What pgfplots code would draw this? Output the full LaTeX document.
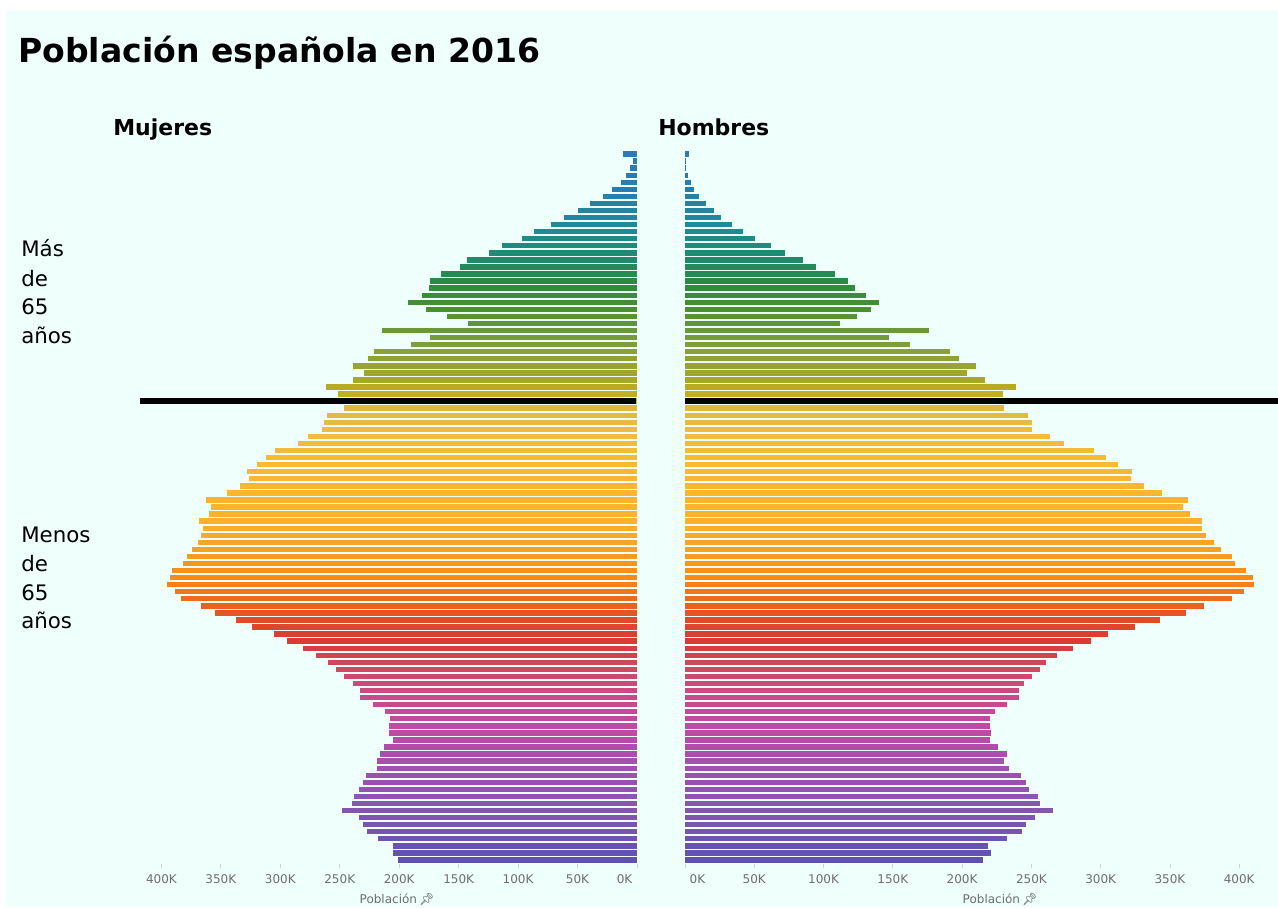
\documentclass[border=0pt]{standalone}
\usepackage{pgfplots}
\pgfplotsset{compat=1.18}
\usepackage{pgfplotstable}
\usepackage{fontspec}
\setmainfont{DejaVu Sans}
\newfontfamily\emojifont{Noto Emoji}

\definecolor{bgc}{RGB}{238,255,252}
\definecolor{tickgray}{RGB}{110,110,110}
\definecolor{k0}{RGB}{96,80,176}
\definecolor{k4}{RGB}{117,85,176}
\definecolor{k8}{RGB}{138,85,176}
\definecolor{k13}{RGB}{160,80,176}
\definecolor{k17}{RGB}{184,74,170}
\definecolor{k21}{RGB}{200,72,154}
\definecolor{k25}{RGB}{204,74,120}
\definecolor{k28}{RGB}{208,72,88}
\definecolor{k31}{RGB}{216,58,56}
\definecolor{k34}{RGB}{224,74,40}
\definecolor{k37}{RGB}{240,106,26}
\definecolor{k40}{RGB}{248,138,26}
\definecolor{k44}{RGB}{248,160,32}
\definecolor{k48}{RGB}{251,176,48}
\definecolor{k55}{RGB}{251,184,46}
\definecolor{k60}{RGB}{240,188,64}
\definecolor{k64}{RGB}{224,184,64}
\definecolor{k66}{RGB}{192,176,32}
\definecolor{k68}{RGB}{168,168,40}
\definecolor{k72}{RGB}{138,160,56}
\definecolor{k75}{RGB}{106,152,56}
\definecolor{k78}{RGB}{74,144,48}
\definecolor{k82}{RGB}{42,138,64}
\definecolor{k85}{RGB}{33,138,106}
\definecolor{k90}{RGB}{31,138,154}
\definecolor{k95}{RGB}{40,125,175}
\definecolor{k100}{RGB}{47,120,181}

\newcommand\mkseg[2]{%
  \pgfplotsforeachungrouped \a in {#1,...,#2}{%
    \pgfmathtruncatemacro\p{round(100*(\a-#1)/(#2-#1))}%
    \colorlet{age\a}{k#2!\p!k#1}%
  }}
\mkseg{0}{4}\mkseg{4}{8}\mkseg{8}{13}\mkseg{13}{17}\mkseg{17}{21}
\mkseg{21}{25}\mkseg{25}{28}\mkseg{28}{31}\mkseg{31}{34}\mkseg{34}{37}
\mkseg{37}{40}\mkseg{40}{44}\mkseg{44}{48}\mkseg{48}{55}\mkseg{55}{60}
\mkseg{60}{64}\mkseg{64}{66}\mkseg{66}{68}\mkseg{68}{72}\mkseg{72}{75}
\mkseg{75}{78}\mkseg{78}{82}\mkseg{82}{85}\mkseg{85}{90}\mkseg{90}{95}
\mkseg{95}{100}

% population in thousands: f = mujeres, m = hombres
\pgfplotstableread{
age f m
0 200.8 214.8
1 205.5 221.1
2 205.0 218.4
3 217.6 232.6
4 226.8 243.1
5 230.2 245.8
6 233.6 252.4
7 247.9 265.6
8 240.0 256.0
9 238.0 255.1
10 233.6 248.6
11 230.2 246.4
12 227.9 242.2
13 218.4 233.5
14 218.4 230.5
15 216.1 232.6
16 212.8 225.8
17 205.0 220.3
18 208.3 221.1
19 208.3 220.3
20 207.7 220.3
21 212.0 223.9
22 221.8 232.1
23 233.0 240.9
24 233.0 240.9
25 239.1 245.0
26 246.2 250.5
27 253.4 256.0
28 260.1 260.6
29 270.2 268.8
30 280.7 279.8
31 294.1 293.0
32 305.0 305.3
33 323.5 324.5
34 337.5 342.9
35 354.9 361.6
36 366.9 374.8
37 383.5 395.1
38 388.6 403.6
39 395.6 410.9
40 392.8 409.6
41 391.3 404.9
42 381.6 396.7
43 378.7 394.5
44 374.5 387.1
45 369.5 381.6
46 366.7 376.1
47 364.7 373.3
48 368.1 373.3
49 359.7 364.3
50 358.3 359.3
51 362.5 362.9
52 345.1 344.5
53 333.9 331.4
54 326.1 321.7
55 328.3 322.3
56 319.9 312.7
57 312.0 303.9
58 304.5 294.9
59 284.9 273.8
60 276.4 263.6
61 264.7 250.5
62 263.2 250.5
63 261.0 247.7
64 246.2 230.5
65 250.0 232.0
66 251.2 229.3
67 261.8 238.9
68 239.1 216.2
69 229.4 203.3
70 239.1 210.1
71 226.0 197.8
72 221.2 191.5
73 190.1 162.7
74 174.1 147.0
75 214.2 176.4
76 141.9 111.9
77 160.1 124.3
78 177.5 134.4
79 192.9 139.9
80 180.5 130.6
81 174.9 122.4
82 174.1 117.4
83 165.1 108.6
84 148.9 94.9
85 142.7 85.0
86 124.5 72.1
87 113.8 62.0
88 96.4 50.8
89 86.6 42.0
90 72.6 33.7
91 61.4 26.3
92 49.3 20.6
93 39.5 15.1
94 28.9 10.4
95 21.3 6.3
96 13.7 4.1
97 9.5 2.2
98 5.9 0.8
99 3.1 0.8
100 11.5 2.7
}\pyr

\pgfplotsset{
  pyrstyle/.style={
    scale only axis,
    height=534.75pt,
    ymin=-0.5, ymax=100.5,
    axis x line*=bottom, axis y line=none,
    x axis line style={draw=none},
    tick align=outside,
    major tick length=3pt,
    xtick={50,100,...,400},
    xticklabels={50K,100K,150K,200K,250K,300K,350K,400K},
    extra x ticks={0},
    extra x tick labels={0K},
    tick style={draw=gray!35, line width=0.6pt},
    xticklabel style={font=\fontsize{9}{10}\selectfont, text=tickgray, yshift=-2pt},
    clip=false,
  }
}

\begin{document}
\begin{tikzpicture}
\useasboundingbox (0,0) rectangle (958.5pt,-680.25pt);
\fill[white] (0,0) rectangle (958.5pt,-680.25pt);
\fill[bgc] (4.5pt,-7.5pt) rectangle (958.5pt,-680.25pt);

% Mujeres (left)
\begin{axis}[pyrstyle,
  at={(105pt,-647.625pt)}, anchor=south west,
  width=372.75pt,
  xmin=0, xmax=418, x dir=reverse,
  extra x tick style={xticklabel style={anchor=north east}},
]
\pgfplotsinvokeforeach{0,...,100}{%
  \addplot[xbar, bar width=0.76, draw=none, fill=age#1, forget plot]
    table[x=f, y=age, restrict y to domain=#1:#1] {\pyr};
}
\addplot[black, line width=4pt, forget plot] coordinates {(0.6,65) (418,65)};
\end{axis}

% Hombres (right)
\begin{axis}[pyrstyle,
  at={(513.75pt,-647.625pt)}, anchor=south west,
  width=444.75pt,
  xmin=0, xmax=428,
  extra x tick style={xticklabel style={anchor=north west}},
]
\pgfplotsinvokeforeach{0,...,100}{%
  \addplot[xbar, bar width=0.76, draw=none, fill=age#1, forget plot]
    table[x=m, y=age, restrict y to domain=#1:#1] {\pyr};
}
\addplot[black, line width=4pt, forget plot] coordinates {(0,65) (428,65)};
\end{axis}

\begin{scope}[x=0.75pt, y=-0.75pt]
\node[anchor=base west, inner sep=0, font=\fontsize{24.8}{30}\selectfont\bfseries] at (18,62) {Población española en 2016};
\node[anchor=base west, inner sep=0, font=\fontsize{16.5}{20}\selectfont\bfseries] at (113,135) {Mujeres};
\node[anchor=base west, inner sep=0, font=\fontsize{16.5}{20}\selectfont\bfseries] at (658,135) {Hombres};
\begin{scope}[every node/.style={anchor=base west, inner sep=0, font=\fontsize{16}{19}\selectfont}]
\node at (21,256.7) {Más};
\node at (21,286) {de};
\node at (21,314.3) {65};
\node at (21,343) {años};
\node at (21,542) {Menos};
\node at (21,571.7) {de};
\node at (21,600) {65};
\node at (21,628.3) {años};
\end{scope}
\node[font=\fontsize{9}{10}\selectfont, text=tickgray, inner sep=0] at (397,899) {Población\,{\emojifont\color{black!70}📌}};
\node[font=\fontsize{9}{10}\selectfont, text=tickgray, inner sep=0] at (1000,899) {Población\,{\emojifont\color{black!70}📌}};
\end{scope}
\end{tikzpicture}
\end{document}
